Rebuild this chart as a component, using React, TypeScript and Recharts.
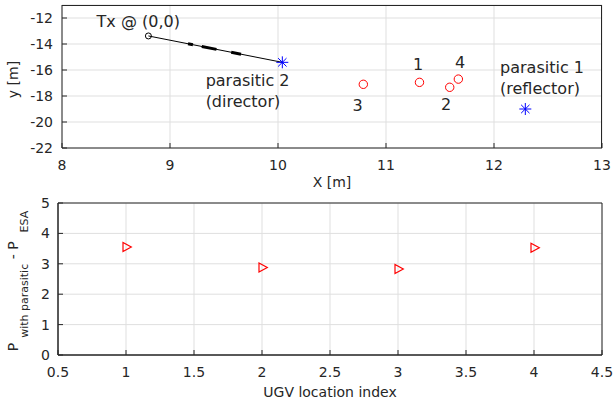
import { ScatterChart, Scatter, XAxis, YAxis, CartesianGrid, ReferenceArea } from "recharts";

const FONT = "'DejaVu Sans', sans-serif";
const INK = "#262626";
const GRID = "#dfdfdf";

// top panel: layout in metres
const xDomainTop = [8, 13];
const yDomainTop = [-22, -11];
const xTicksTop = [8, 9, 10, 11, 12, 13];
const yTicksTop = [-22, -20, -18, -16, -14, -12];
const txPosition = [{ x: 8.8, y: -13.38 }];
const parasiticPositions = [
  { x: 12.29, y: -19.0 },
  { x: 10.04, y: -15.41 },
];
const ugvPositions = [
  { x: 11.31, y: -16.95 },
  { x: 11.59, y: -17.33 },
  { x: 10.79, y: -17.1 },
  { x: 11.67, y: -16.7 },
];
const feedLine = [
  { x: 8.8, y: -13.38 },
  { x: 10.04, y: -15.41 },
];
const feedDash = [
  { x: 9.167, y: -13.98 },
  { x: 9.667, y: -14.8 },
];
const annotations = [
  { lines: ["Tx @ (0,0)"], x: 8.32, y: -12.28 },
  { lines: ["parasitic 2", "(director)"], x: 9.33, y: -17.65 },
  { lines: ["parasitic 1", "(reflector)"], x: 12.056, y: -16.58 },
  { lines: ["1"], x: 11.25, y: -15.6 },
  { lines: ["4"], x: 11.64, y: -15.4 },
  { lines: ["3"], x: 10.69, y: -18.73 },
  { lines: ["2"], x: 11.51, y: -18.65 },
];

// bottom panel: power difference per location
const xDomainBottom = [0.5, 4.5];
const yDomainBottom = [0, 5];
const locationIndex = [1, 2, 3, 4];
const powerGain = [3.55, 2.88, 2.83, 3.53];
const xTicksBottom = [0.5, 1, 1.5, 2, 2.5, 3, 3.5, 4, 4.5];
const yTicksBottom = [0, 1, 2, 3, 4, 5];

const gainData = locationIndex.map((idx, i) => ({ x: idx, y: powerGain[i] }));

const tickStyle = { fontSize: 14, fill: INK, fontFamily: FONT };

const ringShape = (color: string, r: number) => (props: any) =>
  <circle cx={props.cx} cy={props.cy} r={r} fill="none" stroke={color} strokeWidth={1} />;

const starShape = (props: any) => {
  const { cx, cy } = props;
  const r = 6;
  const d = r * 0.7;
  return (
    <g stroke="#0000ff" strokeWidth={1}>
      <line x1={cx - r} y1={cy} x2={cx + r} y2={cy} />
      <line x1={cx} y1={cy - r} x2={cx} y2={cy + r} />
      <line x1={cx - d} y1={cy - d} x2={cx + d} y2={cy + d} />
      <line x1={cx - d} y1={cy + d} x2={cx + d} y2={cy - d} />
    </g>
  );
};

const triangleShape = (props: any) => {
  const { cx, cy } = props;
  return (
    <polygon
      points={`${cx - 3},${cy - 4.5} ${cx - 3},${cy + 4.5} ${cx + 5.3},${cy}`}
      fill="none"
      stroke="#ff0000"
      strokeWidth={1.2}
    />
  );
};

const annotationShape = (props: any) => {
  const { cx, cy, payload } = props;
  const lines: string[] = payload.lines;
  const gap = 21;
  const first = cy - ((lines.length - 1) * gap) / 2;
  return (
    <text fontSize={16} fill={INK} fontFamily={FONT}>
      {lines.map((l, i) => (
        <tspan key={i} x={cx} y={first + i * gap + 5.5}>
          {l}
        </tspan>
      ))}
    </text>
  );
};

const noShape = () => <g />;

function TopYTitle(props: any) {
  const vb = props.viewBox || { y: 0, height: 0 };
  const cy = vb.y + vb.height / 2 + 3;
  return (
    <text
      transform={`translate(17.5, ${cy}) rotate(-90)`}
      textAnchor="middle"
      fontSize={14}
      fill={INK}
      fontFamily={FONT}
    >
      y [m]
    </text>
  );
}

function BottomYTitle(props: any) {
  const vb = props.viewBox || { y: 0, height: 0 };
  const cy = vb.y + vb.height / 2 + 2;
  return (
    <text
      transform={`translate(18.3, ${cy}) rotate(-90)`}
      textAnchor="middle"
      fontSize={14}
      fill={INK}
      fontFamily={FONT}
    >
      <tspan>P</tspan>
      <tspan dx={5} dy={10} fontSize={11}>with parasitic</tspan>
      <tspan dy={-10}> - P</tspan>
      <tspan dx={9} dy={10} fontSize={11}>ESA</tspan>
    </text>
  );
}

export default function App() {
  return (
    <div style={{ position: "absolute", left: 0, top: 0, width: 614, height: 407, background: "#fff" }}>
      <div style={{ position: "absolute", left: 0, top: 0 }}>
        <ScatterChart width={614} height={196} margin={{ top: 5, right: 12, bottom: 0, left: 0 }}>
          <CartesianGrid stroke={GRID} strokeWidth={1} />
          <XAxis
            type="number"
            dataKey="x"
            domain={xDomainTop}
            ticks={xTicksTop}
            interval={0}
            height={48}
            tick={tickStyle}
            tickSize={-5}
            tickMargin={17}
            stroke={INK}
            label={{ value: "X [m]", position: "insideBottom", offset: 9, fontSize: 14, fill: INK, fontFamily: FONT }}
          />
          <YAxis
            type="number"
            dataKey="y"
            domain={yDomainTop}
            ticks={yTicksTop}
            interval={0}
            width={62}
            tick={tickStyle}
            tickSize={-5}
            tickMargin={14}
            stroke={INK}
            label={<TopYTitle />}
          />
          <Scatter data={feedLine} line={{ stroke: "#000", strokeWidth: 1 }} shape={noShape} isAnimationActive={false} />
          <Scatter
            data={feedDash}
            line={{ stroke: "#000", strokeWidth: 3, strokeDasharray: "5 9 15 15 10 100" }}
            shape={noShape}
            isAnimationActive={false}
          />
          <Scatter data={txPosition} shape={ringShape("#000", 3)} isAnimationActive={false} />
          <Scatter data={parasiticPositions} shape={starShape} isAnimationActive={false} />
          <Scatter data={ugvPositions} shape={ringShape("#ff0000", 4.2)} isAnimationActive={false} />
          <Scatter data={annotations} shape={annotationShape} isAnimationActive={false} />
        </ScatterChart>
      </div>
      <div style={{ position: "absolute", left: 0, top: 196 }}>
        <ScatterChart width={614} height={211} margin={{ top: 7, right: 12, bottom: 0, left: 0 }}>
          <CartesianGrid stroke={GRID} strokeWidth={1} />
          <XAxis
            type="number"
            dataKey="x"
            domain={xDomainBottom}
            ticks={xTicksBottom}
            interval={0}
            height={52}
            tick={tickStyle}
            tickSize={-5}
            tickMargin={17}
            stroke={INK}
            label={{ value: "UGV location index", position: "insideBottom", offset: 10, fontSize: 14, fill: INK, fontFamily: FONT }}
          />
          <YAxis
            type="number"
            dataKey="y"
            domain={yDomainBottom}
            ticks={yTicksBottom}
            interval={0}
            width={58}
            tick={tickStyle}
            tickSize={-5}
            tickMargin={13}
            stroke={INK}
            label={<BottomYTitle />}
          />
          <ReferenceArea
            x1={xDomainBottom[0]}
            x2={xDomainBottom[1]}
            y1={yDomainBottom[0]}
            y2={yDomainBottom[1]}
            ifOverflow="visible"
            fill="none"
            stroke={INK}
            strokeWidth={1}
          />
          <Scatter data={gainData} shape={triangleShape} isAnimationActive={false} />
        </ScatterChart>
      </div>
      {/* axes box for the top panel: top and right edges */}
      <div
        style={{
          position: "absolute",
          zIndex: 10,
          left: 62,
          top: 5,
          width: 540,
          height: 143,
          boxSizing: "border-box",
          borderTop: `1px solid ${INK}`,
          borderRight: `1px solid ${INK}`,
          pointerEvents: "none",
        }}
      />
    </div>
  );
}
